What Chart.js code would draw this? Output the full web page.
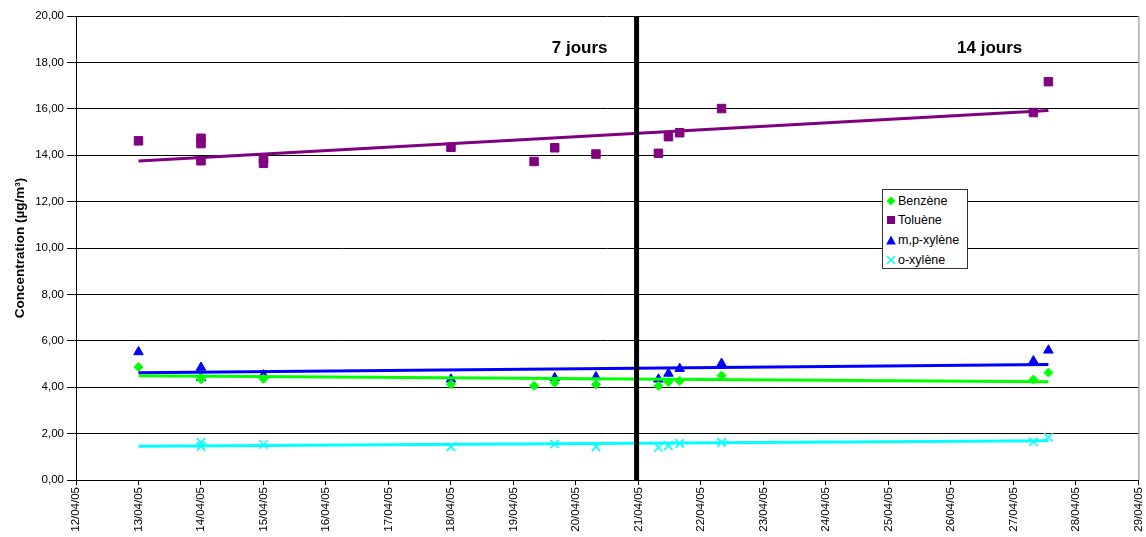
<!DOCTYPE html>
<html>
<head>
<meta charset="utf-8">
<script src="https://cdn.jsdelivr.net/npm/chart.js@4"></script>
<style>
  html, body { margin: 0; padding: 0; background: #fff; }
  #wrap { position: relative; width: 1146px; height: 537px; }
  #legend {
    position: absolute; left: 882px; top: 189px; width: 84px; height: 78px;
    border: 1px solid #333; background: #fff;
    font: 12.5px "Liberation Sans", Arial, sans-serif; color: #000;
  }
  .leg-item { position: absolute; left: 3px; height: 16px; line-height: 16px; white-space: nowrap; }
  .leg-item svg { vertical-align: middle; margin-right: 2px; position: relative; top: -1px; }
</style>
</head>
<body>
<div id="wrap">
  <canvas id="chart" width="1146" height="537"></canvas>
  <div id="legend">
    <div class="leg-item" style="top:3px"><svg width="10" height="10"><polygon points="5,0.5 9.5,5 5,9.5 0.5,5" fill="#00ff00"/></svg>Benzène</div>
    <div class="leg-item" style="top:22px"><svg width="10" height="10"><rect x="1" y="1" width="8" height="8" fill="#800080"/></svg>Toluène</div>
    <div class="leg-item" style="top:42px"><svg width="10" height="10"><polygon points="5,0.5 9.8,9.5 0.2,9.5" fill="#0000ff"/></svg>m,p-xylène</div>
    <div class="leg-item" style="top:62px"><svg width="10" height="10"><path d="M1 1 L9 9 M9 1 L1 9" stroke="#00ffff" stroke-width="1.6"/></svg>o-xylène</div>
  </div>
</div>
<script>
// day of April 2005 on the x axis
const X_MIN = 12;
const X_MAX = 29;
const Y_MIN = 0;
const Y_MAX = 20;

const benzeneX = [13, 14, 14, 15, 18, 19.33, 19.66, 20.32, 21.32, 21.48, 21.66, 22.33, 27.32, 27.56];
const benzeneY = [4.87, 4.42, 4.34, 4.36, 4.13, 4.06, 4.19, 4.12, 4.06, 4.22, 4.27, 4.5, 4.33, 4.63];

const tolueneX = [13, 14, 14, 14, 15, 15, 18, 19.33, 19.66, 20.32, 21.32, 21.48, 21.66, 22.33, 27.32, 27.56];
const tolueneY = [14.62, 14.73, 14.5, 13.76, 13.85, 13.65, 14.34, 13.73, 14.32, 14.05, 14.08, 14.8, 14.97, 16.01, 15.84, 17.17];

const mpXyleneX = [13, 14, 14, 15, 18, 19.66, 20.32, 21.32, 21.48, 21.66, 22.33, 27.32, 27.56];
const mpXyleneY = [5.52, 4.85, 4.4, 4.52, 4.34, 4.4, 4.44, 4.34, 4.59, 4.8, 5.02, 5.13, 5.59];

const oXyleneX = [14, 14, 15, 18, 19.66, 20.32, 21.32, 21.48, 21.66, 22.33, 27.32, 27.56];
const oXyleneY = [1.62, 1.45, 1.53, 1.43, 1.55, 1.43, 1.4, 1.48, 1.58, 1.62, 1.65, 1.84];

// trend lines (start, end)
const trendX = [13, 27.56];
const benzeneTrend = [4.49, 4.23];
const tolueneTrend = [13.75, 15.93];
const mpXyleneTrend = [4.62, 4.98];
const oXyleneTrend = [1.46, 1.69];

const markerX = [20.97, 20.97];
const markerY = [0, 20];

const notes = [
  { text: '7 jours', x: 20.06, y: 18.6 },
  { text: '14 jours', x: 26.62, y: 18.6 },
];

const FONT = "'Liberation Sans', Arial, sans-serif";

const pts = (xs, ys) => xs.map((x, i) => ({ x, y: ys[i] }));

function trend(ys, color) {
  return {
    type: 'line',
    data: pts(trendX, ys),
    borderColor: color,
    borderWidth: 3,
    pointRadius: 0,
    fill: false,
  };
}

function scatter(xs, ys, color, style, radius, bw) {
  return {
    type: 'scatter',
    data: pts(xs, ys),
    pointStyle: style,
    pointRadius: radius,
    pointBackgroundColor: color,
    pointBorderColor: color,
    pointBorderWidth: bw,
  };
}

const annotate = {
  id: 'annotate',
  afterDatasetsDraw(chart) {
    const { ctx, chartArea, scales } = chart;
    ctx.save();
    ctx.strokeStyle = '#808080';
    ctx.lineWidth = 1;
    ctx.beginPath();
    ctx.moveTo(chartArea.right + 0.5, chartArea.top);
    ctx.lineTo(chartArea.right + 0.5, chartArea.bottom);
    ctx.stroke();
    ctx.fillStyle = '#000';
    ctx.font = 'bold 17px ' + FONT;
    ctx.textAlign = 'center';
    ctx.textBaseline = 'middle';
    notes.forEach(n => {
      ctx.fillText(n.text, scales.x.getPixelForValue(n.x), scales.y.getPixelForValue(n.y));
    });
    ctx.restore();
  },
};

new Chart(document.getElementById('chart'), {
  data: {
    datasets: [
      {
        type: 'line',
        data: pts(markerX, markerY),
        borderColor: '#000',
        borderWidth: 5,
        pointRadius: 0,
      },
      trend(benzeneTrend, '#00ff00'),
      trend(mpXyleneTrend, '#0000ff'),
      trend(oXyleneTrend, '#00ffff'),
      trend(tolueneTrend, '#800080'),
      scatter(benzeneX, benzeneY, '#00ff00', 'rectRot', 4.5, 1),
      scatter(tolueneX, tolueneY, '#800080', 'rect', 6, 1),
      scatter(mpXyleneX, mpXyleneY, '#0000ff', 'triangle', 5.5, 1),
      scatter(oXyleneX, oXyleneY, '#00ffff', 'crossRot', 6, 1.6),
    ],
  },
  options: {
    responsive: false,
    animation: false,
    layout: { padding: { top: 16, right: 5, left: 0, bottom: 0 } },
    plugins: { legend: { display: false }, tooltip: { enabled: false } },
    scales: {
      x: {
        type: 'linear',
        min: X_MIN,
        max: X_MAX,
        afterFit: s => { s.height = 57; },
        ticks: {
          stepSize: 1,
          autoSkip: false,
          maxRotation: 90,
          minRotation: 90,
          padding: 2,
          color: '#000',
          font: { family: FONT, size: 11.5, lineHeight: 0.4 },
          callback: v => String(v).padStart(2, '0') + '/04/05',
        },
        grid: { drawOnChartArea: false, tickLength: 5, color: '#000' },
        border: { color: '#000', width: 1 },
      },
      y: {
        min: Y_MIN,
        max: Y_MAX,
        afterFit: s => { s.width = 76; },
        ticks: {
          stepSize: 2,
          padding: 3,
          color: '#000',
          font: { family: FONT, size: 11.5 },
          callback: v => v.toFixed(2).replace('.', ','),
        },
        grid: { color: '#000', lineWidth: 1, tickLength: 9 },
        border: { color: '#000', width: 1 },
        title: {
          display: true,
          text: 'Concentration (µg/m³)',
          color: '#000',
          font: { family: FONT, size: 13.5, weight: 'bold' },
          padding: { top: 12, bottom: 0 },
        },
      },
    },
  },
  plugins: [annotate],
});
</script>
</body>
</html>
